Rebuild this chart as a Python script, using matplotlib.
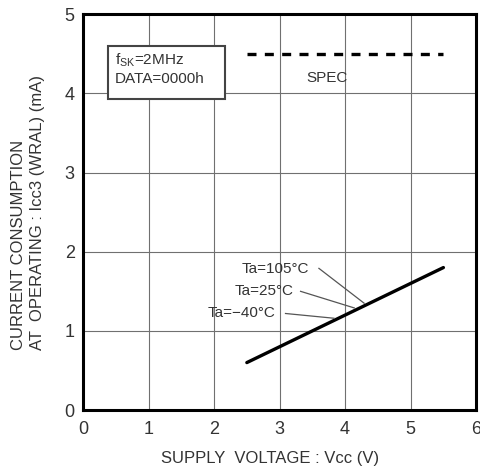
import matplotlib.pyplot as plt
from matplotlib.patches import Rectangle

plt.rcParams['font.family'] = ['Liberation Sans', 'DejaVu Sans']

# supply voltage vs current consumption (all temps overlap)
vcc = [2.5, 5.5]
icc = [0.6, 1.8]

spec_x = [2.5, 5.5]
spec_y = [4.5, 4.5]

temps = ['Ta=105°C', 'Ta=25°C', 'Ta=\u221240°C']
label_xy = [(3.45, 1.78), (3.22, 1.5), (2.93, 1.22)]
leader_from = [(3.6, 1.79), (3.32, 1.5), (3.09, 1.22)]
leader_to = [(4.29, 1.35), (4.14, 1.29), (3.83, 1.16)]

txt = '#333333'

fig = plt.figure(figsize=(4.8, 4.73), dpi=100)
ax = fig.add_axes([0.173, 0.133, 0.819, 0.837])

ax.plot(vcc, icc, color='black', lw=2.4, solid_capstyle='round')
ax.plot(spec_x, spec_y, color='black', lw=2.4, ls=(0, (2.7, 2.5)))
ax.text(3.73, 4.2, 'SPEC', ha='center', va='center', fontsize=11, color=txt)

for t, (x, y), p0, p1 in zip(temps, label_xy, leader_from, leader_to):
    ax.text(x, y, t, ha='right', va='center', fontsize=11, color=txt)
    ax.plot([p0[0], p1[0]], [p0[1], p1[1]], color='#555555', lw=0.9)

ax.add_patch(Rectangle((0.38, 3.93), 1.79, 0.67, fc='white', ec='#444444', lw=1.5, zorder=3))
ax.text(0.49, 4.42, 'f$_{\\mathregular{SK}}$=2MHz', ha='left', va='center',
        fontsize=11, color=txt, zorder=4)
ax.text(0.49, 4.18, 'DATA=0000h', ha='left', va='center', fontsize=11, color=txt, zorder=4)

ax.set_xlim(0, 6)
ax.set_ylim(0, 5)
ax.set_xticks(range(0, 7))
ax.set_yticks(range(0, 6))
ax.grid(color='#707070', lw=0.8)
ax.tick_params(axis='x', length=0, labelsize=13, labelcolor=txt, pad=8)
ax.tick_params(axis='y', length=0, labelsize=13, labelcolor=txt, pad=6)
for s in ax.spines.values():
    s.set_linewidth(2.2)

fig.text(0.563, 0.030, 'SUPPLY  VOLTAGE : Vcc (V)', ha='center', va='center',
         fontsize=12, color=txt)
fig.text(0.058, 0.26, 'CURRENT CONSUMPTION\nAT  OPERATING : Icc3 (WRAL) (mA)',
         rotation=90, ha='center', va='bottom', multialignment='left',
         fontsize=12, color=txt, linespacing=1.3)

fig.savefig('out.png', dpi=100)
